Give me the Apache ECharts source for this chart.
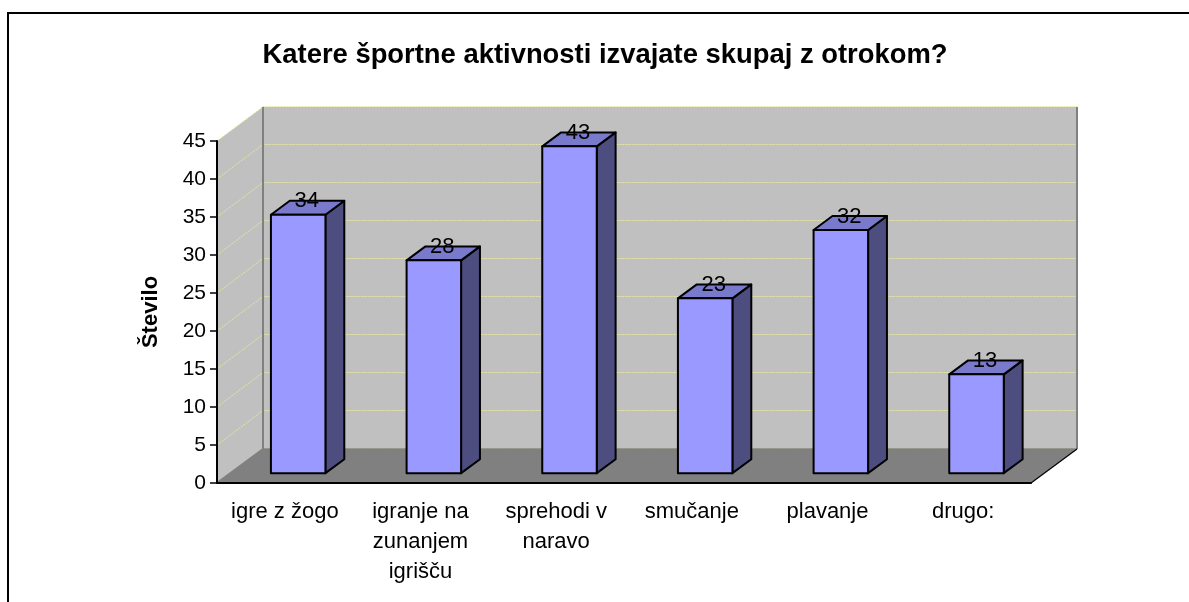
<!DOCTYPE html>
<html><head><meta charset="utf-8">
<style>html,body{margin:0;padding:0;background:#fff}#c{width:1189px;height:602px}</style>
<script src="https://cdn.jsdelivr.net/npm/echarts@6/dist/echarts.min.js"></script>
</head><body><div id="c"></div>
<script>
const titleText = 'Katere športne aktivnosti izvajate skupaj z otrokom?';
const yAxisTitle = 'Število';
const categories = ['igre z žogo', 'igranje na\nzunanjem\nigrišču', 'sprehodi v\nnaravo', 'smučanje', 'plavanje', 'drugo:'];
const values = [34, 28, 43, 23, 32, 13];
const gridValues = [0, 5, 10, 15, 20, 25, 30, 35, 40, 45];

const FONT = '"Liberation Sans", Arial, sans-serif';
const DX = 46, DY = -34;          // full floor depth
const BAR_FRONT = 0.29, BAR_BACK = 0.70;  // bar position in the depth
const BAR_W = 54.5;
const C = {wall:'#C0C0C0', floor:'#808080', edge:'#808080', grid:'#E6E6A0',
           front:'#9999FF', top:'#7A7ACC', side:'#4D4D80', ink:'#000'};

const poly = (points, fill, stroke, lw) => ({type:'polygon', shape:{points},
  style:{fill, stroke: stroke||'none', lineWidth: lw||0, lineJoin:'round'}});
const line = (points, stroke, lw, dash) => ({type:'polyline', shape:{points},
  style:{fill:'none', stroke, lineWidth:lw, lineDash:dash||null}});

function renderWalls(params){
  const g = params.coordSys, x0=g.x, x1=g.x+g.width, yT=g.y, yB=g.y+g.height;
  return {type:'group', children:[
    poly([[x0,yB],[x0+DX,yB+DY],[x0+DX,yT+DY],[x0,yT]], C.wall),
    poly([[x0+DX,yB+DY],[x1+DX,yB+DY],[x1+DX,yT+DY],[x0+DX,yT+DY]], C.wall)
  ]};
}
function renderGrid(params, api){
  const g = params.coordSys, x0=g.x, x1=g.x+g.width;
  const y = api.coord([0, api.value(0)])[1];
  return line([[x0,y],[x0+DX,y+DY-0.5],[x1+DX,y+DY-0.5]], C.grid, 1, [2,1]);
}
function renderFloor(params){
  const g = params.coordSys, x0=g.x, x1=g.x+g.width, yT=g.y, yB=g.y+g.height;
  return {type:'group', children:[
    poly([[x0,yB],[x0+DX,yB+DY],[x1+DX,yB+DY],[x1,yB]], C.floor),
    line([[x0,yB],[x0+DX,yB+DY],[x0+DX,yT+DY]], C.edge, 2),
    line([[x1+DX,yT+DY],[x1+DX,yB+DY]], C.edge, 2),
    line([[x0+DX,yB+DY],[x1+DX,yB+DY]], C.edge, 1.5),
    line([[x1,yB],[x1+DX,yB+DY]], C.ink, 1.2)
  ]};
}
function renderBar(params, api){
  const i = api.value(0), v = api.value(1);
  const base = api.coord([i, 0]), topP = api.coord([i, v]);
  const fx = DX*BAR_FRONT, fy = DY*BAR_FRONT, bx = DX*BAR_BACK, by = DY*BAR_BACK;
  const l = base[0]+fx-BAR_W/2, r = base[0]+fx+BAR_W/2;
  const yb = base[1]+fy, yt = topP[1]+fy;
  const ox = bx-fx, oy = by-fy;
  const s = C.ink, w = 2;
  return {type:'group', children:[
    poly([[r,yb],[r+ox,yb+oy],[r+ox,yt+oy],[r,yt]], C.side, s, w),
    poly([[l,yt],[r,yt],[r+ox,yt+oy],[l+ox,yt+oy]], C.top, s, w),
    poly([[l,yt],[r,yt],[r,yb],[l,yb]], C.front, s, w),
    {type:'text', z2:10, style:{text:String(v), x:(l+r)/2+8.5, y:yt-13.5, align:'center', verticalAlign:'middle',
      fill:C.ink, font:'22px '+FONT}}
  ]};
}

const chart = echarts.init(document.getElementById('c'), null, {renderer:'canvas'});
chart.setOption({
  animation:false,
  backgroundColor:'#fff',
  title:{text:titleText, left:600, top:37, textAlign:'center',
    textStyle:{fontFamily:FONT, fontWeight:'bold', fontSize:27.4, color:'#000'}},
  grid:{left:217, top:141, width:814, height:342},
  xAxis:{type:'category', data:categories, z:10,
    axisLine:{lineStyle:{color:'#000', width:2}},
    axisTick:{length:7, lineStyle:{color:'#000', width:1.5}},
    axisLabel:{color:'#000', fontFamily:FONT, fontSize:22, lineHeight:30, margin:14, interval:0}},
  yAxis:{type:'value', min:0, max:45, interval:5, z:10,
    name:yAxisTitle, nameLocation:'middle', nameRotate:90, nameGap:55,
    nameTextStyle:{color:'#000', fontFamily:FONT, fontWeight:'bold', fontSize:22},
    axisLine:{show:true, lineStyle:{color:'#000', width:2}},
    axisTick:{show:true, length:7, lineStyle:{color:'#000', width:1.5}},
    axisLabel:{color:'#000', fontFamily:FONT, fontSize:21, margin:11, padding:[3,0,0,0]},
    splitLine:{show:false}},
  series:[
    {type:'custom', name:'walls', z:1, silent:true, renderItem:renderWalls, data:[[0]]},
    {type:'custom', name:'grid', z:2, silent:true, renderItem:renderGrid, data:gridValues.map(v=>[v])},
    {type:'custom', name:'floor', z:3, silent:true, renderItem:renderFloor, data:[[0]]},
    {type:'custom', name:'Število', z:4, renderItem:renderBar, encode:{x:0,y:1},
      data:values.map((v,i)=>[i,v])}
  ],
  graphic:[{type:'polyline', silent:true, z:20,
    shape:{points:[[8,620],[8,13],[1200,13]]},
    style:{fill:'none', stroke:'#000', lineWidth:2}}]
});
</script></body></html>
